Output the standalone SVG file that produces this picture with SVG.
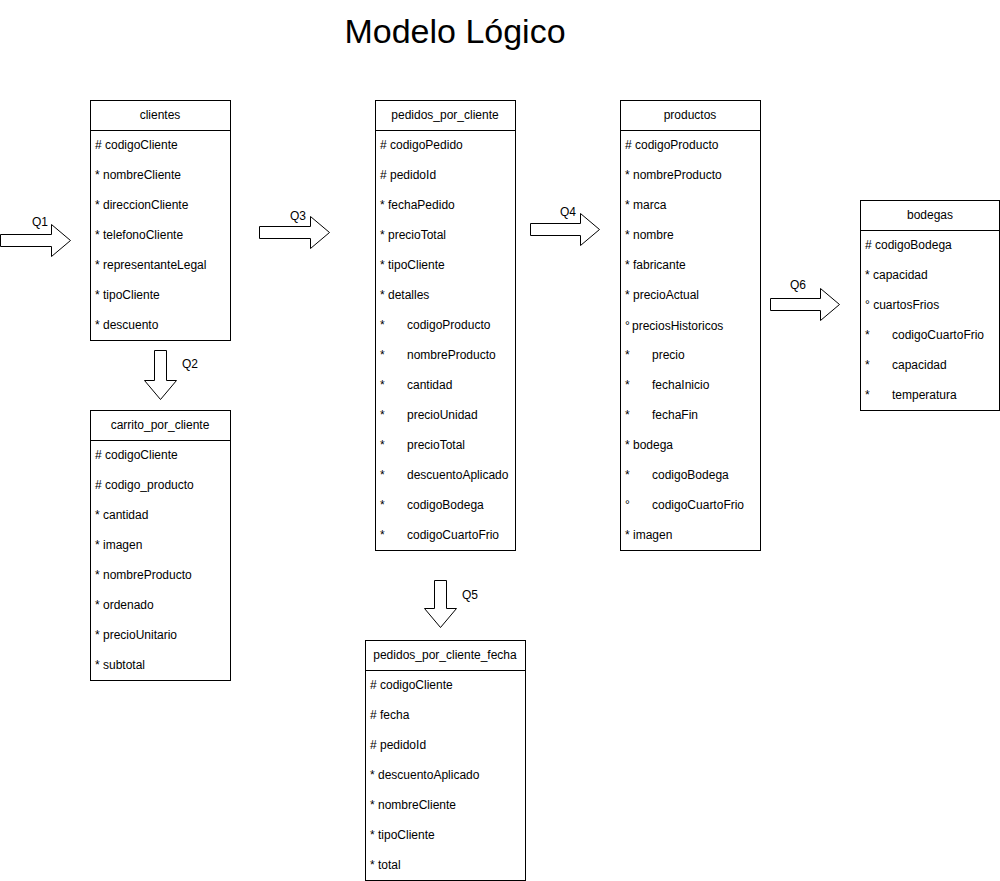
<svg xmlns="http://www.w3.org/2000/svg" width="1000" height="881" viewBox="0 0 1000 881">
<style>
text{font-family:"Liberation Sans",Arial,sans-serif;font-size:12px;fill:#000}
.title{font-size:34px}
.h{text-anchor:middle}
.box{fill:#fff;stroke:#000;stroke-width:1}
.arrow{fill:#fff;stroke:#000;stroke-width:1}
</style>
<rect width="1000" height="881" fill="#fff"/>
<text class="title h" x="455" y="43">Modelo Lógico</text>

<g id="clientes">
<rect class="box" x="90.5" y="100.5" width="140" height="240"/>
<line x1="90.5" y1="130.5" x2="230.5" y2="130.5" stroke="#000"/>
<text class="h" x="160" y="119">clientes</text>
<text x="95" y="149"># codigoCliente</text>
<text x="95" y="179">* nombreCliente</text>
<text x="95" y="209">* direccionCliente</text>
<text x="95" y="239">* telefonoCliente</text>
<text x="95" y="269">* representanteLegal</text>
<text x="95" y="299">* tipoCliente</text>
<text x="95" y="329">* descuento</text>
</g>

<g id="carrito_por_cliente">
<rect class="box" x="90.5" y="410.5" width="140" height="270"/>
<line x1="90.5" y1="440.5" x2="230.5" y2="440.5" stroke="#000"/>
<text class="h" x="160" y="429">carrito_por_cliente</text>
<text x="95" y="459"># codigoCliente</text>
<text x="95" y="489"># codigo_producto</text>
<text x="95" y="519">* cantidad</text>
<text x="95" y="549">* imagen</text>
<text x="95" y="579">* nombreProducto</text>
<text x="95" y="609">* ordenado</text>
<text x="95" y="639">* precioUnitario</text>
<text x="95" y="669">* subtotal</text>
</g>

<g id="pedidos_por_cliente">
<rect class="box" x="375.5" y="100.5" width="140" height="450"/>
<line x1="375.5" y1="130.5" x2="515.5" y2="130.5" stroke="#000"/>
<text class="h" x="445" y="119">pedidos_por_cliente</text>
<text x="380" y="149"># codigoPedido</text>
<text x="380" y="179"># pedidoId</text>
<text x="380" y="209">* fechaPedido</text>
<text x="380" y="239">* precioTotal</text>
<text x="380" y="269">* tipoCliente</text>
<text x="380" y="299">* detalles</text>
<text x="380" y="329">*<tspan x="407">codigoProducto</tspan></text>
<text x="380" y="359">*<tspan x="407">nombreProducto</tspan></text>
<text x="380" y="389">*<tspan x="407">cantidad</tspan></text>
<text x="380" y="419">*<tspan x="407">precioUnidad</tspan></text>
<text x="380" y="449">*<tspan x="407">precioTotal</tspan></text>
<text x="380" y="479">*<tspan x="407">descuentoAplicado</tspan></text>
<text x="380" y="509">*<tspan x="407">codigoBodega</tspan></text>
<text x="380" y="539">*<tspan x="407">codigoCuartoFrio</tspan></text>
</g>

<g id="productos">
<rect class="box" x="620.5" y="100.5" width="140" height="450"/>
<line x1="620.5" y1="130.5" x2="760.5" y2="130.5" stroke="#000"/>
<text class="h" x="690" y="119">productos</text>
<text x="625" y="149"># codigoProducto</text>
<text x="625" y="179">* nombreProducto</text>
<text x="625" y="209">* marca</text>
<text x="625" y="239">* nombre</text>
<text x="625" y="269">* fabricante</text>
<text x="625" y="299">* precioActual</text>
<text x="625" y="330">°<tspan x="632">preciosHistoricos</tspan></text>
<text x="625" y="359">*<tspan x="652">precio</tspan></text>
<text x="625" y="389">*<tspan x="652">fechaInicio</tspan></text>
<text x="625" y="419">*<tspan x="652">fechaFin</tspan></text>
<text x="625" y="449">* bodega</text>
<text x="625" y="479">*<tspan x="652">codigoBodega</tspan></text>
<text x="625" y="509">°<tspan x="652">codigoCuartoFrio</tspan></text>
<text x="625" y="539">* imagen</text>
</g>

<g id="bodegas">
<rect class="box" x="860.5" y="200.5" width="139" height="210"/>
<line x1="860.5" y1="230.5" x2="999.5" y2="230.5" stroke="#000"/>
<text class="h" x="930" y="219">bodegas</text>
<text x="865" y="249"># codigoBodega</text>
<text x="865" y="279">* capacidad</text>
<text x="865" y="309">° cuartosFrios</text>
<text x="865" y="339">*<tspan x="892">codigoCuartoFrio</tspan></text>
<text x="865" y="369">*<tspan x="892">capacidad</tspan></text>
<text x="865" y="399">*<tspan x="892">temperatura</tspan></text>
</g>

<g id="pedidos_por_cliente_fecha">
<rect class="box" x="365.5" y="640.5" width="160" height="240"/>
<line x1="365.5" y1="670.5" x2="525.5" y2="670.5" stroke="#000"/>
<text class="h" x="445" y="659">pedidos_por_cliente_fecha</text>
<text x="370" y="689"># codigoCliente</text>
<text x="370" y="719"># fecha</text>
<text x="370" y="749"># pedidoId</text>
<text x="370" y="779">* descuentoAplicado</text>
<text x="370" y="809">* nombreCliente</text>
<text x="370" y="839">* tipoCliente</text>
<text x="370" y="869">* total</text>
</g>

<g id="connectors">
<path class="arrow" d="M0.5,234.5 H51.5 V224.5 L70.5,240.5 L51.5,256.5 V246.5 H0.5 Z"/>
<text x="32" y="226">Q1</text>
<path class="arrow" d="M154.5,350.5 V380.5 H144.5 L160.5,399.5 L176.5,380.5 H166.5 V350.5 Z"/>
<text x="182" y="368">Q2</text>
<path class="arrow" d="M259.5,226.5 H310.5 V216.5 L329.5,232.5 L310.5,248.5 V238.5 H259.5 Z"/>
<text x="290" y="220">Q3</text>
<path class="arrow" d="M530.5,223.5 H580.5 V213.5 L599.5,229.5 L580.5,245.5 V235.5 H530.5 Z"/>
<text x="560" y="216">Q4</text>
<path class="arrow" d="M434.5,580.5 V608.5 H424.5 L440.5,627.5 L456.5,608.5 H446.5 V580.5 Z"/>
<text x="462" y="599">Q5</text>
<path class="arrow" d="M770.5,298.5 H820.5 V288.5 L839.5,304.5 L820.5,320.5 V310.5 H770.5 Z"/>
<text x="790" y="289">Q6</text>
</g>
</svg>
